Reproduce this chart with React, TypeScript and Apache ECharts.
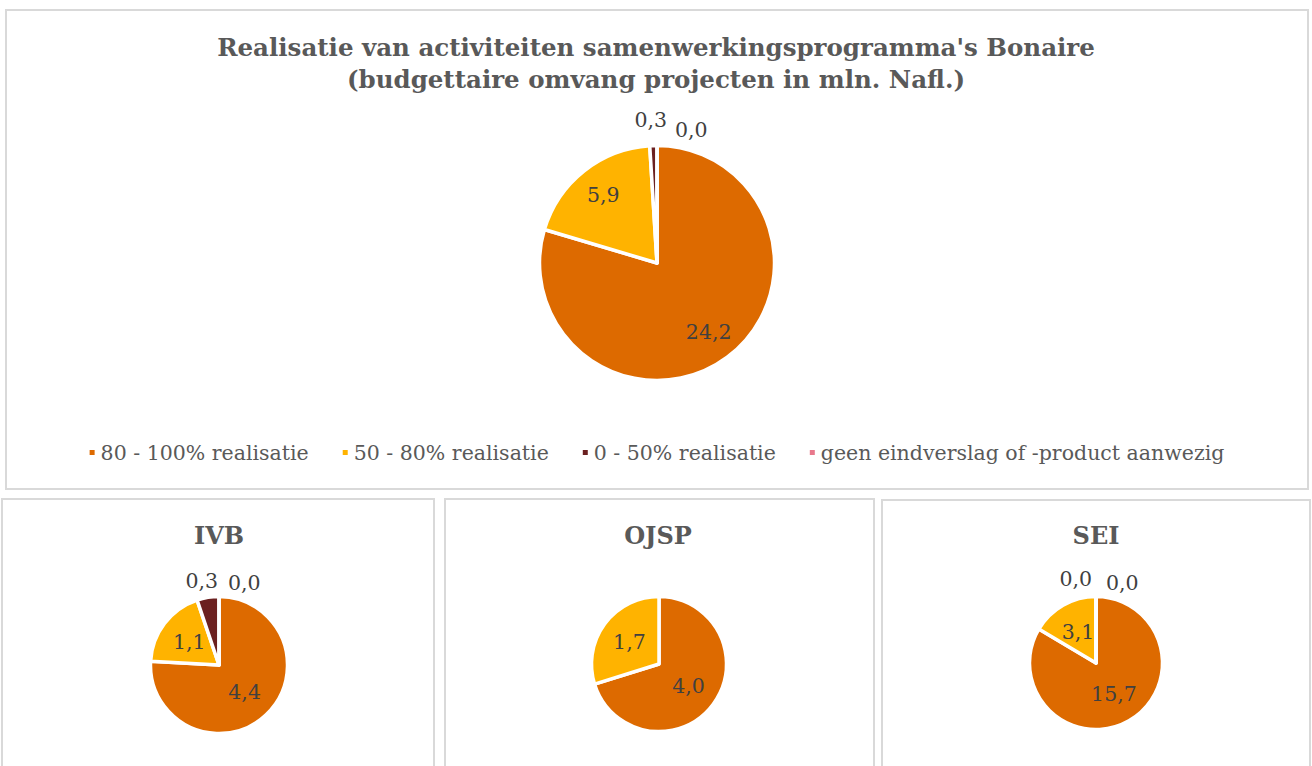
import React, { useEffect, useRef } from "react";
import * as echarts from "echarts";

const categories = [
  "80 - 100% realisatie",
  "50 - 80% realisatie",
  "0 - 50% realisatie",
  "geen eindverslag of -product aanwezig",
];
const colors = ["#DD6A00", "#FFB300", "#6B2020", "#E8798C"];

const mainTitle = "Realisatie van activiteiten samenwerkingsprogramma's Bonaire\n(budgettaire omvang projecten in mln. Nafl.)";
const mainValues: (number | null)[] = [24.2, 5.9, 0.3, 0.0];

const subTitles = ["IVB", "OJSP", "SEI"];
const ivbValues: (number | null)[] = [4.4, 1.1, 0.3, 0.0];
const ojspValues: (number | null)[] = [4.0, 1.7, null, null];
const seiValues: (number | null)[] = [15.7, 3.1, 0.0, 0.0];

const FONT = "'DejaVu Serif', Georgia, serif";
const TEXT = "#595959";
const LABEL = "#404040";

function fmt(v: number) {
  return v.toFixed(1).replace(".", ",");
}

function buildData(values: (number | null)[]) {
  const out: any[] = [];
  values.forEach((v, i) => {
    if (v === null) return;
    out.push({ name: categories[i], value: v, itemStyle: { color: colors[i] } });
  });
  return out;
}

type PieGeom = { cx: number; cy: number; r: number; k: number; o3: [number, number]; o4: [number, number] };

function makePie(values: (number | null)[], g: PieGeom) {
  return {
    type: "pie",
    center: [g.cx, g.cy],
    radius: [0, g.r + 1.5],
    startAngle: 90,
    clockwise: true,
    avoidLabelOverlap: false,
    data: buildData(values),
    itemStyle: { borderColor: "#ffffff", borderWidth: 3.5 },
    label: {
      show: true,
      position: "inside",
      formatter: (p: any) => fmt(p.value),
      fontFamily: FONT,
      fontSize: 20.5,
      color: LABEL,
    },
    labelLine: { show: false },
    emphasis: { disabled: true },
    labelLayout: (p: any) => {
      if (p.dataIndex === 2) {
        return { x: g.cx + g.o3[0], y: g.cy - g.r + g.o3[1], align: "right", verticalAlign: "middle" };
      }
      if (p.dataIndex === 3) {
        return { x: g.cx + g.o4[0], y: g.cy - g.r + g.o4[1], align: "left", verticalAlign: "middle" };
      }
      const rc = p.labelRect;
      const lx = rc.x + rc.width / 2;
      const ly = rc.y + rc.height / 2;
      return { x: g.cx + (lx - g.cx) * g.k, y: g.cy + (ly - g.cy) * g.k };
    },
  };
}

export default function App() {
  const ref = useRef<HTMLDivElement>(null);
  useEffect(() => {
    document.body.style.margin = "0";
    const chart = echarts.init(ref.current!, null, { renderer: "svg" });
    const border = { stroke: "#D9D9D9", lineWidth: 2, fill: "rgba(0,0,0,0)" };
    chart.setOption({
      animation: false,
      backgroundColor: "#ffffff",
      title: {
        text: mainTitle,
        left: "center",
        top: 26,
        textStyle: { fontFamily: FONT, fontSize: 24.5, fontWeight: "bold", color: TEXT, lineHeight: 32 },
      },
      legend: {
        data: categories,
        left: "center",
        top: 437,
        icon: "rect",
        itemWidth: 7,
        itemHeight: 7,
        itemGap: 32,
        selectedMode: false,
        textStyle: { fontFamily: FONT, fontSize: 20.5, color: TEXT },
      },
      graphic: [
        { type: "rect", shape: { x: 6, y: 10, width: 1302, height: 479 }, style: border, silent: true },
        { type: "rect", shape: { x: 2, y: 499, width: 432, height: 300 }, style: border, silent: true },
        { type: "rect", shape: { x: 445, y: 499, width: 429, height: 300 }, style: border, silent: true },
        { type: "rect", shape: { x: 882, y: 500, width: 428, height: 300 }, style: border, silent: true },
        ...subTitles.map((t, i) => ({
          type: "text",
          x: [219, 658, 1096][i],
          y: 535,
          style: {
            text: t,
            textAlign: "center",
            textVerticalAlign: "middle",
            font: `bold 24px ${FONT}`,
            fill: TEXT,
          },
          silent: true,
        })),
      ],
      series: [
        makePie(mainValues, { cx: 657, cy: 263, r: 116, k: 1.4, o3: [10, -27], o4: [18, -17] }),
        makePie(ivbValues, { cx: 219, cy: 665, r: 67, k: 1.0, o3: [-1, -17], o4: [9, -15] }),
        makePie(ojspValues, { cx: 659, cy: 664, r: 66, k: 1.0, o3: [-1, -17], o4: [9, -15] }),
        makePie(seiValues, { cx: 1096, cy: 663, r: 65, k: 1.0, o3: [-4, -19], o4: [10, -15] }),
      ],
    });
    return () => chart.dispose();
  }, []);
  return <div ref={ref} style={{ width: 1312, height: 766, position: "absolute", left: 0, top: 0 }} />;
}
